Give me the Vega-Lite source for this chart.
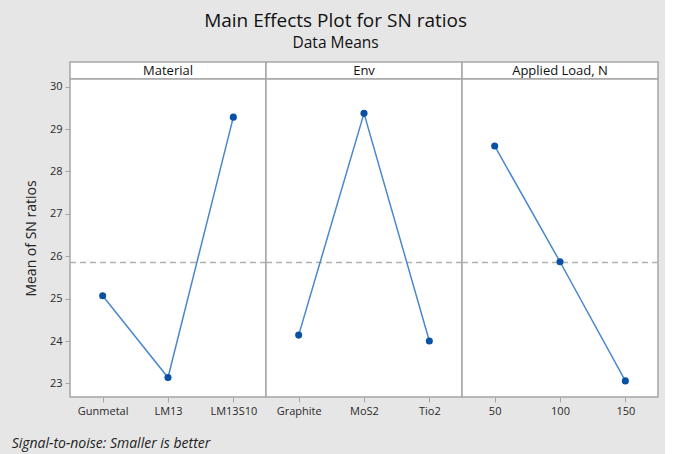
{
  "$schema": "https://vega.github.io/schema/vega-lite/v6.json",
  "background": "#e6e6e6",
  "padding": {"left": 11, "top": 11, "right": 5, "bottom": 5},
  "config": {
    "font": "Open Sans",
    "view": {"fill": "white", "stroke": "#a6a6a6", "strokeWidth": 1.5},
    "axis": {
      "grid": false,
      "domain": false,
      "labelFont": "Open Sans",
      "labelFontSize": 11,
      "labelColor": "#2a2a2a",
      "tickColor": "#a6a6a6",
      "tickSize": 5,
      "labelPadding": 3,
      "titleFont": "Open Sans",
      "titleFontWeight": "normal",
      "titleColor": "#222222"
    }
  },
  "title": {
    "text": "Main Effects Plot for SN ratios",
    "subtitle": "Data Means",
    "fontSize": 19,
    "fontWeight": "normal",
    "color": "#111111",
    "subtitleFontSize": 15.5,
    "subtitleColor": "#111111",
    "subtitlePadding": 5,
    "anchor": "middle",
    "offset": 10
  },
  "datasets": {
    "effects": [
      {"factor": "Material", "level": "Gunmetal", "sn": 25.07},
      {"factor": "Material", "level": "LM13", "sn": 23.14},
      {"factor": "Material", "level": "LM13S10", "sn": 29.28},
      {"factor": "Env", "level": "Graphite", "sn": 24.14},
      {"factor": "Env", "level": "MoS2", "sn": 29.37},
      {"factor": "Env", "level": "Tio2", "sn": 24.00},
      {"factor": "Applied Load, N", "level": "50", "sn": 28.60},
      {"factor": "Applied Load, N", "level": "100", "sn": 25.87},
      {"factor": "Applied Load, N", "level": "150", "sn": 23.06}
    ],
    "grand": [{"mean": 25.85}],
    "headers": [
      {"factor": "Material"},
      {"factor": "Env"},
      {"factor": "Applied Load, N"}
    ]
  },
  "vconcat": [
    {
      "title": {
        "text": "Signal-to-noise: Smaller is better",
        "orient": "bottom",
        "anchor": "start",
        "fontSize": 14,
        "fontStyle": "italic",
        "fontWeight": "normal",
        "color": "#222222",
        "offset": 20,
        "dx": -12
      },
      "columns": 3,
      "spacing": 0,
      "bounds": "flush",
      "align": "each",
      "concat": [
        {
          "width": 196, "height": 17,
          "data": {"name": "headers"},
          "transform": [{"filter": "datum.factor === 'Material'"}],
          "mark": {"type": "text", "fontSize": 13, "color": "#111111", "baseline": "middle"},
          "encoding": {
            "x": {"field": "factor", "type": "nominal", "axis": null},
            "text": {"field": "factor"}
          }
        },
        {
          "width": 196, "height": 17,
          "data": {"name": "headers"},
          "transform": [{"filter": "datum.factor === 'Env'"}],
          "mark": {"type": "text", "fontSize": 13, "color": "#111111", "baseline": "middle"},
          "encoding": {
            "x": {"field": "factor", "type": "nominal", "axis": null},
            "text": {"field": "factor"}
          }
        },
        {
          "width": 196, "height": 17,
          "data": {"name": "headers"},
          "transform": [{"filter": "datum.factor === 'Applied Load, N'"}],
          "mark": {"type": "text", "fontSize": 13, "color": "#111111", "baseline": "middle"},
          "encoding": {
            "x": {"field": "factor", "type": "nominal", "axis": null},
            "text": {"field": "factor"}
          }
        },
        {
          "width": 196, "height": 318,
          "layer": [
            {
              "data": {"name": "grand"},
              "mark": {"type": "rule", "color": "#b0b0b0", "strokeDash": [6, 4], "strokeWidth": 1.5},
              "encoding": {"y": {"field": "mean", "type": "quantitative", "scale": {"domain": [22.68, 30.18], "nice": false, "zero": false}}}
            },
            {
              "data": {"name": "effects"},
              "transform": [{"filter": "datum.factor === 'Material'"}],
              "layer": [
                {"mark": {"type": "line", "color": "#4a88cc", "strokeWidth": 1.5}},
                {"mark": {"type": "point", "filled": true, "color": "#0a50a4", "size": 50, "opacity": 1}}
              ],
              "encoding": {
                "x": {"field": "level", "type": "ordinal", "sort": ["Gunmetal", "LM13", "LM13S10"], "scale": {"type": "point", "padding": 0.5}, "axis": {"title": null, "labelAngle": 0}},
                "y": {"field": "sn", "type": "quantitative", "scale": {"domain": [22.68, 30.18], "nice": false, "zero": false}, "axis": {"title": "Mean of SN ratios", "titleFontSize": 14, "titlePadding": 11, "values": [23, 24, 25, 26, 27, 28, 29, 30]}}
              }
            }
          ]
        },
        {
          "width": 196, "height": 318,
          "layer": [
            {
              "data": {"name": "grand"},
              "mark": {"type": "rule", "color": "#b0b0b0", "strokeDash": [6, 4], "strokeWidth": 1.5},
              "encoding": {"y": {"field": "mean", "type": "quantitative", "scale": {"domain": [22.68, 30.18], "nice": false, "zero": false}, "axis": null}}
            },
            {
              "data": {"name": "effects"},
              "transform": [{"filter": "datum.factor === 'Env'"}],
              "layer": [
                {"mark": {"type": "line", "color": "#4a88cc", "strokeWidth": 1.5}},
                {"mark": {"type": "point", "filled": true, "color": "#0a50a4", "size": 50, "opacity": 1}}
              ],
              "encoding": {
                "x": {"field": "level", "type": "ordinal", "sort": ["Graphite", "MoS2", "Tio2"], "scale": {"type": "point", "padding": 0.5}, "axis": {"title": null, "labelAngle": 0}},
                "y": {"field": "sn", "type": "quantitative", "scale": {"domain": [22.68, 30.18], "nice": false, "zero": false}, "axis": null}
              }
            }
          ]
        },
        {
          "width": 196, "height": 318,
          "layer": [
            {
              "data": {"name": "grand"},
              "mark": {"type": "rule", "color": "#b0b0b0", "strokeDash": [6, 4], "strokeWidth": 1.5},
              "encoding": {"y": {"field": "mean", "type": "quantitative", "scale": {"domain": [22.68, 30.18], "nice": false, "zero": false}, "axis": null}}
            },
            {
              "data": {"name": "effects"},
              "transform": [{"filter": "datum.factor === 'Applied Load, N'"}],
              "layer": [
                {"mark": {"type": "line", "color": "#4a88cc", "strokeWidth": 1.5}},
                {"mark": {"type": "point", "filled": true, "color": "#0a50a4", "size": 50, "opacity": 1}}
              ],
              "encoding": {
                "x": {"field": "level", "type": "ordinal", "sort": ["50", "100", "150"], "scale": {"type": "point", "padding": 0.5}, "axis": {"title": null, "labelAngle": 0}},
                "y": {"field": "sn", "type": "quantitative", "scale": {"domain": [22.68, 30.18], "nice": false, "zero": false}, "axis": null}
              }
            }
          ]
        }
      ]
    }
  ]
}
